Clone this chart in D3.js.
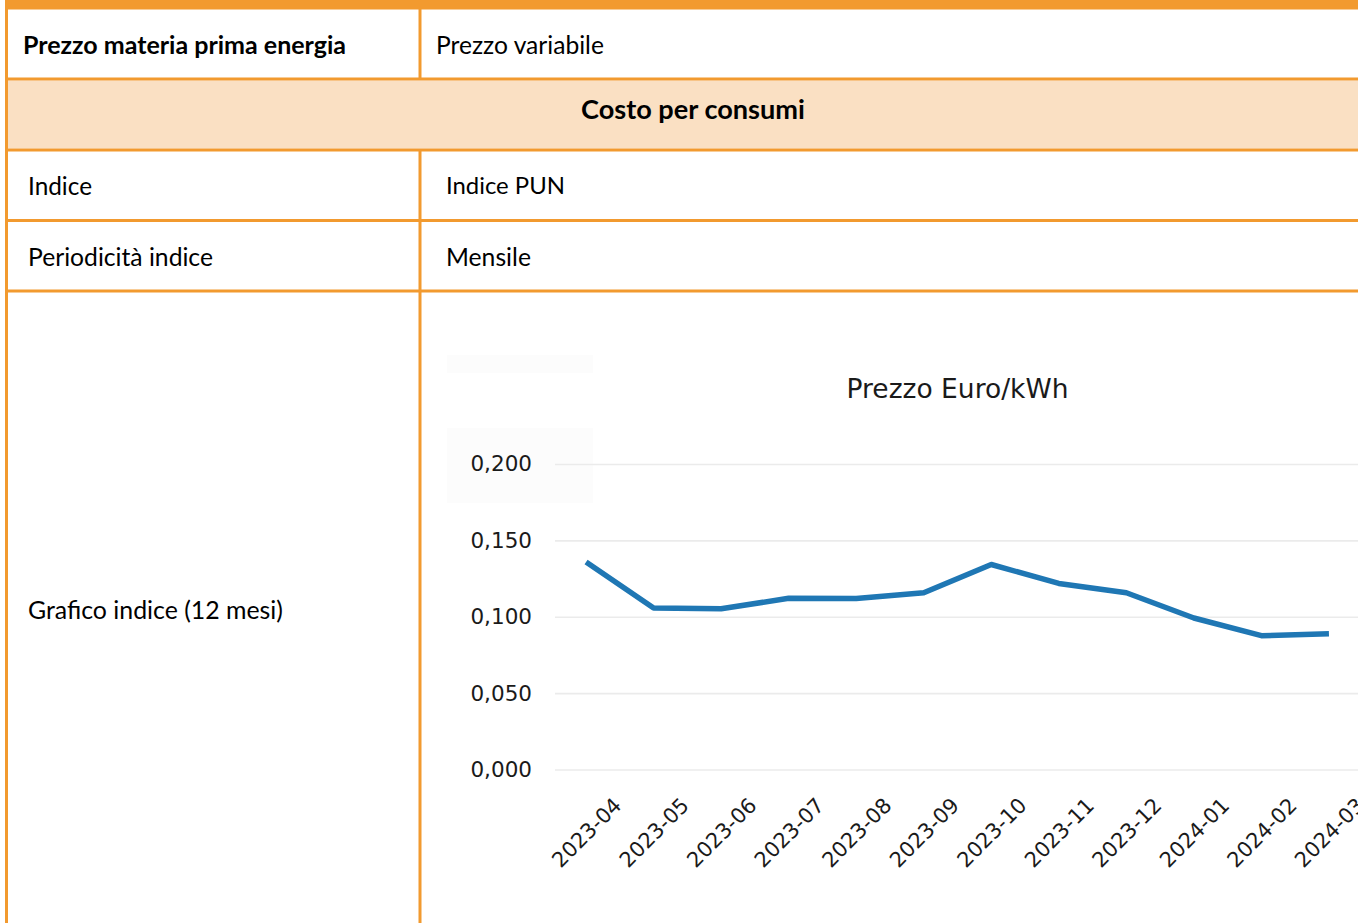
<!DOCTYPE html>
<html>
<head>
<meta charset="utf-8">
<script src="https://cdn.jsdelivr.net/npm/d3@7/dist/d3.min.js"></script>
<style>
  html, body { margin: 0; padding: 0; background: #ffffff; }
  svg { display: block; }
</style>
</head>
<body>
<svg id="page" width="1358" height="923"></svg>
<script>
// ---------- data ----------
const months = ["2023-04","2023-05","2023-06","2023-07","2023-08","2023-09",
                "2023-10","2023-11","2023-12","2024-01","2024-02","2024-03"];
const prices = [0.1358, 0.1057, 0.1052, 0.1121, 0.1119, 0.1157,
                0.1342, 0.1218, 0.1157, 0.0992, 0.0876, 0.0889];
const yTicks = [0, 0.05, 0.10, 0.15, 0.20];
const chartTitle = "Prezzo Euro/kWh";

// table contents
const rowLabels = ["Prezzo materia prima energia", "Indice", "Periodicità indice", "Grafico indice (12 mesi)"];
const rowValues = ["Prezzo variabile", "Indice PUN", "Mensile"];
const sectionTitle = "Costo per consumi";

// ---------- layout ----------
const W = 1358, H = 923;
const orange = "#F29A2F";
const peach = "#FAE0C3";
const svg = d3.select("#page");
const tableFont = "Lato, 'Open Sans', sans-serif";
const chartFont = "'DejaVu Sans', sans-serif";

// header fill
svg.append("rect").attr("x", 8).attr("y", 80.5).attr("width", W - 8).attr("height", 68)
  .attr("fill", peach);
// top thick bar
svg.append("rect").attr("x", 5).attr("y", 0).attr("width", W - 5).attr("height", 9.5)
  .attr("fill", orange);

// grid lines of the table
const hLines = [79, 150, 220.5, 291];
svg.selectAll("line.h").data(hLines).join("line")
  .attr("x1", 5).attr("x2", W).attr("y1", d => d).attr("y2", d => d)
  .attr("stroke", orange).attr("stroke-width", 3);
svg.append("line").attr("x1", 6.5).attr("x2", 6.5).attr("y1", 0).attr("y2", H)
  .attr("stroke", orange).attr("stroke-width", 3);
[[9, 79], [150, H]].forEach(([a, b]) => {
  svg.append("line").attr("x1", 420).attr("x2", 420).attr("y1", a).attr("y2", b)
    .attr("stroke", orange).attr("stroke-width", 3);
});

// fit-width text helper
function fitText(txt, x, cy, targetW, bold, anchor) {
  const t = svg.append("text").text(txt)
    .attr("x", x).attr("y", cy).attr("dy", "0.35em")
    .attr("font-family", tableFont).attr("font-size", 20)
    .attr("font-weight", bold ? 700 : 400)
    .attr("fill", "#000").attr("text-anchor", anchor || "start");
  const w = t.node().getComputedTextLength();
  if (w > 0) t.attr("font-size", (20 * targetW / w).toFixed(2));
  return t;
}

fitText(rowLabels[0], 23, 45, 323, true);
fitText(rowValues[0], 436, 45, 168, false);
fitText(sectionTitle, 693, 110, 224, true, "middle");
fitText(rowLabels[1], 28, 186, 64, false);
fitText(rowValues[1], 446, 186, 119, false);
fitText(rowLabels[2], 28, 257, 185, false);
fitText(rowValues[2], 446, 257, 85, false);
fitText(rowLabels[3], 28, 610, 255, false);

// ---------- chart ----------
// faint artifacts of the embedded picture
svg.append("rect").attr("x", 447).attr("y", 355).attr("width", 146).attr("height", 18).attr("fill", "#fcfcfc");
svg.append("rect").attr("x", 447).attr("y", 428).attr("width", 146).attr("height", 75).attr("fill", "#fcfcfc");

const plotL = 555, plotR = 1360;
const x = d3.scalePoint().domain(months).range([plotL, plotR]).padding(0.46);
const y = d3.scaleLinear().domain([0, 0.2]).range([769.5, 464]);
const itFmt = d3.formatLocale({decimal: ",", thousands: ".", grouping: [3], currency: ["€", ""]}).format(".3f");

const g = svg.append("g");

// title
g.append("text").text(chartTitle)
  .attr("x", (plotL + plotR) / 2).attr("y", 398)
  .attr("text-anchor", "middle")
  .attr("font-family", chartFont).attr("font-size", 26.5).attr("fill", "#1a1a1a");

// y axis with gridlines
const yAxis = g.append("g").attr("transform", `translate(${plotL},0)`)
  .call(d3.axisLeft(y).tickValues(yTicks).tickFormat(itFmt)
    .tickSize(-(plotR - plotL)).tickPadding(23));
yAxis.select(".domain").remove();
yAxis.selectAll(".tick line").attr("stroke", "#ebebeb").attr("stroke-width", 1.6);
yAxis.selectAll(".tick text").attr("font-family", chartFont).attr("font-size", 21.5)
  .attr("fill", "#1a1a1a");

// x axis labels
const xAxis = g.append("g").attr("transform", `translate(0,${y(0)})`)
  .call(d3.axisBottom(x).tickSize(0).tickPadding(0));
xAxis.select(".domain").remove();
xAxis.selectAll(".tick text")
  .attr("font-family", chartFont).attr("font-size", 21).attr("fill", "#1a1a1a")
  .attr("text-anchor", "middle").attr("y", 0).attr("dy", "0.35em")
  .attr("transform", "translate(0,63) rotate(-45)");

// line
const line = d3.line().x((d, i) => x(months[i])).y(d => y(d));
g.append("path").datum(prices)
  .attr("d", line)
  .attr("fill", "none").attr("stroke", "#1f77b4").attr("stroke-width", 5.5)
  .attr("stroke-linejoin", "round").attr("stroke-linecap", "butt");
</script>
</body>
</html>
